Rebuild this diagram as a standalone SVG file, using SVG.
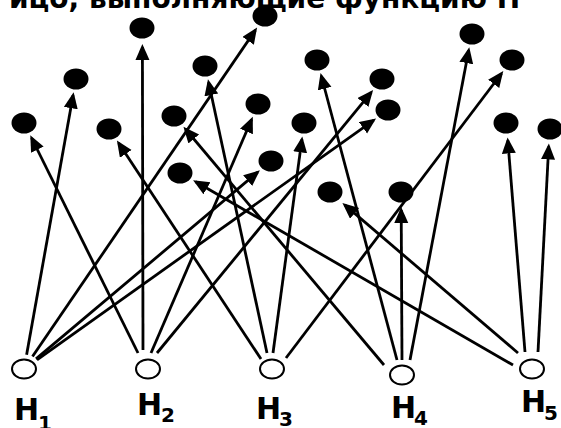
<svg xmlns="http://www.w3.org/2000/svg" width="561" height="428" viewBox="0 0 561 428">
<style>
.dot{fill:#000}
.h{fill:#fff;stroke:#000;stroke-width:2}
.e{stroke:#000;stroke-width:2.8;fill:none;marker-end:url(#ah)}
.lbl{font-family:"DejaVu Sans",Verdana,sans-serif;font-weight:bold;font-size:30px;fill:#000}
.sub{font-size:20px}
.title{font-family:"DejaVu Sans",Verdana,sans-serif;font-weight:bold;font-size:28px;fill:#000}
</style>
<defs>
<marker id="ah" markerUnits="userSpaceOnUse" markerWidth="18" markerHeight="16" refX="13" refY="7" orient="auto">
<path d="M0,0 L16,7 L0,14 Z" fill="#000"/>
</marker>
</defs>
<rect width="561" height="428" fill="#fff"/>
<text class="title" x="9" y="8">ицо, выполняющие функцию Н</text>
<g id="connectors">
<line class="e" x1="26.6" y1="354.7" x2="73.1" y2="95.3"/>
<line class="e" x1="32.5" y1="356.5" x2="255.4" y2="30.1"/>
<line class="e" x1="36" y1="358.9" x2="257.6" y2="172.3"/>
<line class="e" x1="37" y1="359.8" x2="373.6" y2="120.3"/>
<line class="e" x1="138" y1="353" x2="31.6" y2="138"/>
<line class="e" x1="143" y1="350" x2="142.4" y2="47"/>
<line class="e" x1="151" y1="353" x2="251.6" y2="119.5"/>
<line class="e" x1="157" y1="353" x2="371.2" y2="92.4"/>
<line class="e" x1="261" y1="359" x2="118.6" y2="143.1"/>
<line class="e" x1="267" y1="353" x2="208.6" y2="82.2"/>
<line class="e" x1="273" y1="353" x2="301.9" y2="139.4"/>
<line class="e" x1="286" y1="358" x2="501.5" y2="73.5"/>
<line class="e" x1="384" y1="365" x2="185.4" y2="129"/>
<line class="e" x1="397" y1="360" x2="321.3" y2="76"/>
<line class="e" x1="402" y1="360" x2="401.2" y2="210"/>
<line class="e" x1="410" y1="360" x2="468.7" y2="50.2"/>
<line class="e" x1="513" y1="365" x2="195.7" y2="181.7"/>
<line class="e" x1="518" y1="353" x2="344.7" y2="204.9"/>
<line class="e" x1="525" y1="352" x2="507.8" y2="140.4"/>
<line class="e" x1="538" y1="352" x2="548.7" y2="146.5"/>
</g>
<g id="d1"><ellipse class="dot" cx="24" cy="123" rx="12.5" ry="10.5"/></g>
<g id="d2"><ellipse class="dot" cx="76" cy="79" rx="12.5" ry="10.5"/></g>
<g id="d3"><ellipse class="dot" cx="142" cy="28" rx="12.5" ry="10.5"/></g>
<g id="d4"><ellipse class="dot" cx="109" cy="129" rx="12.5" ry="10.5"/></g>
<g id="d5"><ellipse class="dot" cx="174" cy="116" rx="12.5" ry="10.5"/></g>
<g id="d6"><ellipse class="dot" cx="180" cy="173" rx="12.5" ry="10.5"/></g>
<g id="d7"><ellipse class="dot" cx="205" cy="66" rx="12.5" ry="10.5"/></g>
<g id="d8"><ellipse class="dot" cx="265" cy="16" rx="12.5" ry="10.5"/></g>
<g id="d9"><ellipse class="dot" cx="258" cy="104" rx="12.5" ry="10.5"/></g>
<g id="d10"><ellipse class="dot" cx="271" cy="161" rx="12.5" ry="10.5"/></g>
<g id="d11"><ellipse class="dot" cx="317" cy="60" rx="12.5" ry="10.5"/></g>
<g id="d12"><ellipse class="dot" cx="304" cy="123" rx="12.5" ry="10.5"/></g>
<g id="d13"><ellipse class="dot" cx="330" cy="192" rx="12.5" ry="10.5"/></g>
<g id="d14"><ellipse class="dot" cx="382" cy="79" rx="12.5" ry="10.5"/></g>
<g id="d15"><ellipse class="dot" cx="388" cy="110" rx="12.5" ry="10.5"/></g>
<g id="d16"><ellipse class="dot" cx="472" cy="34" rx="12.5" ry="10.5"/></g>
<g id="d17"><ellipse class="dot" cx="512" cy="60" rx="12.5" ry="10.5"/></g>
<g id="d18"><ellipse class="dot" cx="401" cy="192" rx="12.5" ry="10.5"/></g>
<g id="d19"><ellipse class="dot" cx="506" cy="123" rx="12.5" ry="10.5"/></g>
<g id="d20"><ellipse class="dot" cx="550" cy="129" rx="12.5" ry="10.5"/></g>
<g id="H1"><ellipse class="h" cx="24" cy="369" rx="12" ry="9.5"/><text class="lbl" x="14" y="420">H<tspan class="sub" x="38" y="430">1</tspan></text></g>
<g id="H2"><ellipse class="h" cx="148" cy="369" rx="12" ry="9.5"/><text class="lbl" x="137" y="415">H<tspan class="sub" x="161" y="422">2</tspan></text></g>
<g id="H3"><ellipse class="h" cx="272" cy="369" rx="12" ry="9.5"/><text class="lbl" x="256" y="419">H<tspan class="sub" x="279" y="426">3</tspan></text></g>
<g id="H4"><ellipse class="h" cx="402" cy="375" rx="12" ry="9.5"/><text class="lbl" x="391" y="418">H<tspan class="sub" x="414" y="425">4</tspan></text></g>
<g id="H5"><ellipse class="h" cx="532" cy="369" rx="12" ry="9.5"/><text class="lbl" x="521" y="412">H<tspan class="sub" x="544" y="420">5</tspan></text></g>
</svg>
